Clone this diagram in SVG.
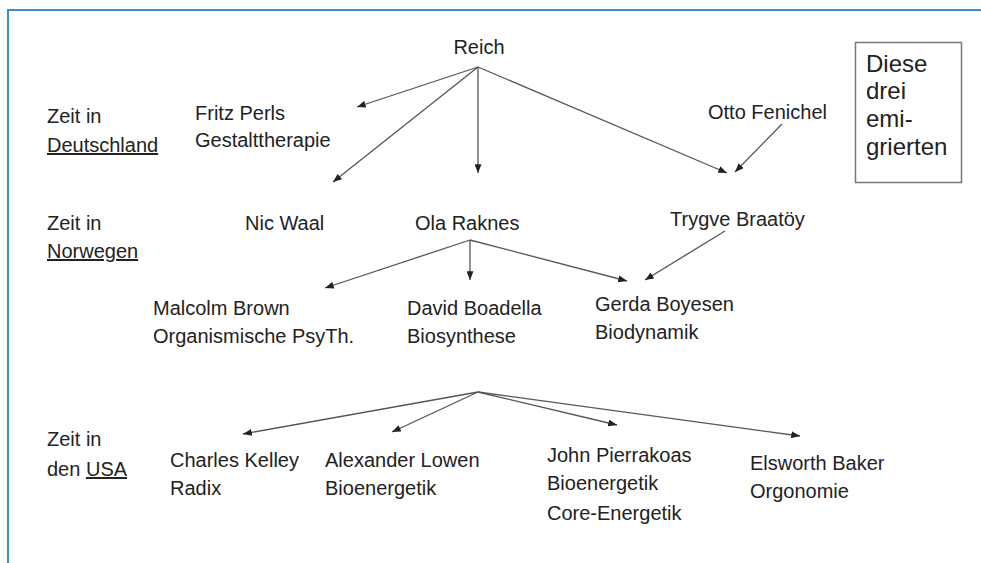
<svg xmlns="http://www.w3.org/2000/svg" width="981" height="563" viewBox="0 0 981 563">
<defs>
<style>
text{font-family:"Liberation Sans",Arial,sans-serif;font-size:20px;fill:#222}
.box{font-size:24px}
.u{text-decoration:underline}
.c{fill:none;stroke:#555;stroke-width:1.3}
</style>
<marker id="ah" viewBox="0 0 10 8" refX="10" refY="4" markerWidth="9" markerHeight="7" markerUnits="userSpaceOnUse" orient="auto">
<path d="M0,0 L10,4 L0,8 z" fill="#222"/>
</marker>
</defs>
<rect width="981" height="563" fill="#fff"/>
<path d="M8,563 V10 H981" fill="none" stroke="#3d8fd0" stroke-width="2"/>

<g id="labels">
<text x="47" y="123">Zeit in</text>
<text x="47" y="152" class="u">Deutschland</text>
<text x="47" y="230">Zeit in</text>
<text x="47" y="258" class="u">Norwegen</text>
<text x="47" y="446">Zeit in</text>
<text x="47" y="476">den <tspan class="u">USA</tspan></text>
</g>

<g id="reich"><text x="479" y="54" text-anchor="middle">Reich</text></g>
<g id="perls"><text x="195" y="120">Fritz Perls</text><text x="195" y="147">Gestalttherapie</text></g>
<g id="fenichel"><text x="708" y="119">Otto Fenichel</text></g>
<g id="note">
<rect x="855.5" y="42.5" width="106" height="140" fill="none" stroke="#777" stroke-width="1.5"/>
<text class="box" x="866" y="72">Diese</text>
<text class="box" x="866" y="99">drei</text>
<text class="box" x="866" y="127">emi-</text>
<text class="box" x="866" y="155">grierten</text>
</g>
<g id="waal"><text x="245" y="230">Nic Waal</text></g>
<g id="raknes"><text x="415" y="230">Ola Raknes</text></g>
<g id="braatoy"><text x="670" y="226">Trygve Braatöy</text></g>
<g id="brown"><text x="153" y="315">Malcolm Brown</text><text x="153" y="343">Organismische PsyTh.</text></g>
<g id="boadella"><text x="407" y="315">David Boadella</text><text x="407" y="343">Biosynthese</text></g>
<g id="boyesen"><text x="595" y="311">Gerda Boyesen</text><text x="595" y="339">Biodynamik</text></g>
<g id="kelley"><text x="170" y="467">Charles Kelley</text><text x="170" y="495">Radix</text></g>
<g id="lowen"><text x="325" y="467">Alexander Lowen</text><text x="325" y="495">Bioenergetik</text></g>
<g id="pierrakos"><text x="547" y="462">John Pierrakoas</text><text x="547" y="490">Bioenergetik</text><text x="547" y="520">Core-Energetik</text></g>
<g id="baker"><text x="750" y="470">Elsworth Baker</text><text x="750" y="498">Orgonomie</text></g>

<g id="connectors" class="c" marker-end="url(#ah)">
<line class="c" x1="478" y1="67" x2="357" y2="107" marker-end="url(#ah)"/>
<line class="c" x1="478" y1="67" x2="333" y2="182" marker-end="url(#ah)"/>
<line class="c" x1="478" y1="67" x2="478" y2="173" marker-end="url(#ah)"/>
<line class="c" x1="478" y1="67" x2="727" y2="173" marker-end="url(#ah)"/>
<line class="c" x1="782" y1="124" x2="735" y2="172" marker-end="url(#ah)"/>
<line class="c" x1="470" y1="240" x2="325" y2="288" marker-end="url(#ah)"/>
<line class="c" x1="470" y1="240" x2="470" y2="280" marker-end="url(#ah)"/>
<line class="c" x1="470" y1="240" x2="627" y2="281" marker-end="url(#ah)"/>
<line class="c" x1="725" y1="231" x2="645" y2="280" marker-end="url(#ah)"/>
<line class="c" x1="478" y1="392" x2="243" y2="434" marker-end="url(#ah)"/>
<line class="c" x1="478" y1="392" x2="392" y2="432" marker-end="url(#ah)"/>
<line class="c" x1="478" y1="392" x2="617" y2="425" marker-end="url(#ah)"/>
<line class="c" x1="478" y1="392" x2="800" y2="436" marker-end="url(#ah)"/>
</g>
</svg>
